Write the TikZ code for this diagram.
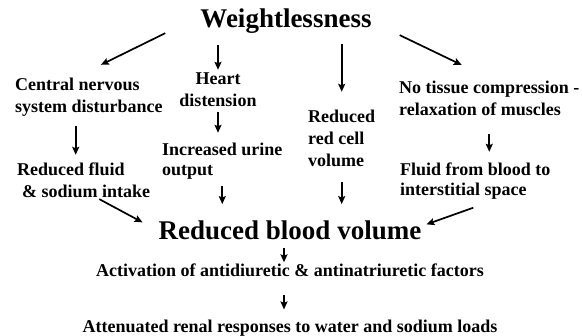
\documentclass[tikz,border=0pt]{standalone}
\usepackage{fontspec}
\setmainfont{Liberation Serif}
\usepackage{tikz}
\usetikzlibrary{positioning, arrows.meta, calc}

\begin{document}
\begin{tikzpicture}[x=1pt, y=-1pt,
        txt/.style={inner sep=0pt, font=\fontsize{18}{22}\selectfont\bfseries},
        big/.style={inner sep=0pt, font=\fontsize{27}{32}\selectfont\bfseries},
        arr/.style={-{Stealth[length=8pt, width=7pt, inset=1.5pt]}, line width=1.7pt}
    ]
    \useasboundingbox (0,0) rectangle (582,336);

    % Cause
    \node[big, anchor=base] (weight) at (286,28) {Weightlessness};

    % First effects
    \node[txt, anchor=north west, align=left] (cns) at (15,77.8) {Central nervous\\system disturbance};
    \node[txt, anchor=north, align=center] (heart) at (218,72.8) {Heart\\distension};
    \node[txt, anchor=north west, align=left] (redcell) at (308,109.8) {Reduced\\red cell\\volume};
    \node[txt, anchor=north west, align=left] (tissue) at (399,80.8) {No tissue compression -\\relaxation of muscles};

    % Second effects
    \node[txt, anchor=north west, align=left] (intake) at (17,162.8) {Reduced fluid\\\hspace*{5pt}\& sodium intake};
    \node[txt, anchor=north west, align=left] (urine) at (162,142.8) {Increased urine\\[-2pt]output};
    \node[txt, anchor=north west, align=left] (interst) at (400,162.8) {Fluid from blood to\\[-2pt]interstitial space};

    % Outcome
    \node[big, anchor=base] (blood) at (290,240) {Reduced blood volume};
    \node[txt] (activ) [below=22.8pt of blood] {Activation of antidiuretic \& antinatriuretic factors};
    \node[txt] (atten) [below=42.8pt of activ] {Attenuated renal responses to water and sodium loads};

    % Arrows
    \draw[arr] ($(weight.south west)+(-35,-1)$) -- ($(cns.north)+(12,-13)$);
    \draw[arr, shorten <=11pt, shorten >=3pt] (heart.north |- weight.south) -- (heart.north);
    \draw[arr, shorten <=10pt, shorten >=18pt] (redcell.north |- weight.south) -- (redcell.north);
    \draw[arr] ($(weight.south east)+(28,1)$) -- ($(tissue.north)+(-27.5,-15.8)$);
    \draw[arr, shorten <=9pt, shorten >=8pt] ([xshift=-8pt]intake.north |- cns.south) -- ([xshift=-8pt]intake.north);
    \draw[arr, shorten <=5pt, shorten >=10pt] (heart.south) -- (heart.south |- urine.north);
    \draw[arr, shorten <=18pt, shorten >=11pt] (tissue.south) -- (tissue.south |- interst.north);
    \draw[arr, shorten <=6pt, shorten >=17pt] (urine.south) -- (urine.south |- blood.north);
    \draw[arr, shorten <=15pt, shorten >=17pt] (redcell.south) -- (redcell.south |- blood.north);
    \draw[arr] ($(intake.south)+(15.5,1)$) -- ($(blood.north west)+(-16,1.3)$);
    \draw[arr] ($(interst.south)+(-2,8)$) -- ($(blood.north east)+(5,3.3)$);
    \draw[arr, shorten <=7pt, shorten >=1pt] ([xshift=-6pt]blood.south) -- ([xshift=-6pt]blood.south |- activ.north);
    \draw[arr, shorten <=18pt, shorten >=10pt] ([xshift=-6pt]activ.south) -- ([xshift=-6pt]activ.south |- atten.north);

\end{tikzpicture}
\end{document}
